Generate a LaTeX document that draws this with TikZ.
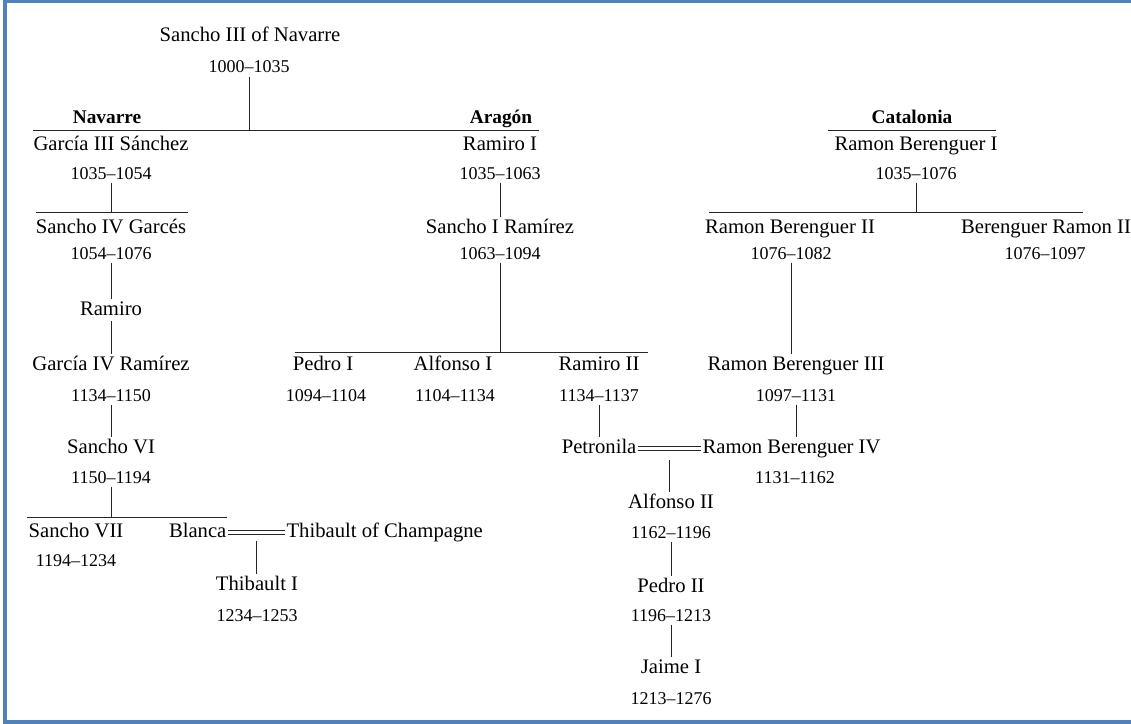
\documentclass[tikz,border=0pt]{standalone}
\usepackage{fontspec}
\setmainfont{Liberation Serif}
\usetikzlibrary{positioning,calc}

\definecolor{frameblue}{RGB}{79,129,189}

\begin{document}
\begin{tikzpicture}[
    x=0.75pt, y=-0.75pt,
    person/.style={font=\fontsize{15.5}{18}\selectfont, inner xsep=1pt, inner ysep=1.5pt,
        text height=10.5pt, text depth=3pt},
    yrs/.style={font=\fontsize{13.5}{16}\selectfont, inner xsep=1pt, inner ysep=2pt,
        text height=9.5pt, text depth=0.5pt},
    realm/.style={font=\fontsize{14.5}{17}\selectfont\bfseries, inner sep=1pt,
        text height=10.5pt, text depth=3pt},
    famline/.style={draw=black!85, line width=0.7pt},
    wedline/.style={draw=black!85, line width=0.6pt}
]
\useasboundingbox (0,0) rectangle (1131,724);
\draw[frameblue, line width=2.4pt] (1135,1.5) -- (5,1.5) -- (5,722) -- (1135,722);

% founder
\node[person] (sancho3) at (250,37) {Sancho III of Navarre};
\node[yrs] (sancho3y) at (249,67) {1000–1035};

% realms
\node[realm] (navarre) at (107,118) {Navarre};
\node[realm] (aragon) at (501,118) {Aragón};
\node[realm] (catalonia) at (912,118) {Catalonia};
\coordinate (topbarL) at (33,130);
\coordinate (topbarR) at (539,130);
\coordinate (catbarL) at (828,130);
\coordinate (catbarR) at (996,130);

% Navarre
\node[person] (garcia3) at (111,145) {García III Sánchez};
\node[yrs] (garcia3y) at (111,173) {1035–1054};
\coordinate (navbarL) at (36,212);
\coordinate (navbarR) at (188,212);
\node[person] (sancho4) at (111,228) {Sancho IV Garcés};
\node[yrs] (sancho4y) at (111,253) {1054–1076};
\node[person] (ramiro) at (111,310) {Ramiro};
\node[person] (garcia4) at (111,365) {García IV Ramírez};
\node[yrs] (garcia4y) at (111,395) {1134–1150};
\node[person] (sancho6) at (111,448) {Sancho VI};
\node[yrs] (sancho6y) at (111,477) {1150–1194};
\coordinate (navbar2L) at (27,517);
\coordinate (navbar2R) at (227,517);
\node[person] (sancho7) at (76,532) {Sancho VII};
\node[yrs] (sancho7y) at (76,560) {1194–1234};
\node[person, anchor=east] (blanca) at (228,532) {Blanca};
\node[person, anchor=west] (thibault) at (285,532) {Thibault of Champagne};
\node[person] (thibault1) at (257,585) {Thibault I};
\node[yrs] (thibault1y) at (257,615) {1234–1253};

% Aragon
\node[person] (ramiro1) at (500,145) {Ramiro I};
\node[yrs] (ramiro1y) at (500,173) {1035–1063};
\node[person] (sancho1) at (500,228) {Sancho I Ramírez};
\node[yrs] (sancho1y) at (500,253) {1063–1094};
\coordinate (arabarL) at (295,352);
\coordinate (arabarR) at (648,352);
\node[person] (pedro1) at (323,365) {Pedro I};
\node[yrs] (pedro1y) at (326,395) {1094–1104};
\node[person] (alfonso1) at (453,365) {Alfonso I};
\node[yrs] (alfonso1y) at (455,395) {1104–1134};
\node[person] (ramiro2) at (599,365) {Ramiro II};
\node[yrs] (ramiro2y) at (599,395) {1134–1137};
\node[person, anchor=east] (petronila) at (638,448) {Petronila};
\node[person] (alfonso2) at (671,503) {Alfonso II};
\node[yrs] (alfonso2y) at (671,532) {1162–1196};
\node[person] (pedro2) at (671,587) {Pedro II};
\node[yrs] (pedro2y) at (671,615) {1196–1213};
\node[person] (jaime1) at (671,668) {Jaime I};
\node[yrs] (jaime1y) at (671,698) {1213–1276};

% Catalonia
\node[person] (rb1) at (916,145) {Ramon Berenguer I};
\node[yrs] (rb1y) at (916,173) {1035–1076};
\coordinate (catbar2L) at (709,212);
\coordinate (catbar2R) at (1083,212);
\node[person] (rb2) at (790,228) {Ramon Berenguer II};
\node[yrs] (rb2y) at (791,253) {1076–1082};
\node[person] (br2) at (1046,228) {Berenguer Ramon II};
\node[yrs] (br2y) at (1045,253) {1076–1097};
\node[person] (rb3) at (796,365) {Ramon Berenguer III};
\node[yrs] (rb3y) at (796,395) {1097–1131};
\node[person, anchor=west] (rb4) at (701,448) {Ramon Berenguer IV};
\node[yrs] (rb4y) at (795,477) {1131–1162};

% lines
\draw[famline] (topbarL) -- (topbarR);
\draw[famline] (sancho3y) -- (sancho3y |- topbarL);
\draw[famline] (catbarL) -- (catbarR);

\draw[famline] (navbarL) -- (navbarR);
\draw[famline] (garcia3y) -- (garcia3y |- navbarL);
\draw[famline] (sancho4y) -- (ramiro);
\draw[famline] (ramiro) -- (garcia4);
\draw[famline] (garcia4y) -- (sancho6);
\draw[famline] (navbar2L) -- (navbar2R);
\draw[famline] (sancho6y) -- (sancho6y |- navbar2L);
% marriage Blanca -- Thibault
\draw[wedline] ([yshift=1.5pt]blanca.east) -- ([yshift=1.5pt]thibault.west);
\draw[wedline] ([yshift=-1.5pt]blanca.east) -- ([yshift=-1.5pt]thibault.west);
\coordinate (wedNav) at ($(blanca.east)!0.5!(thibault.west)$);
\draw[famline, line width=0.5pt, shorten <=7pt] (wedNav) -- (wedNav |- thibault1.north);

\draw[famline] (ramiro1y) -- (sancho1);
\draw[famline] (arabarL) -- (arabarR);
\draw[famline] (sancho1y) -- (sancho1y |- arabarL);
\draw[famline] (ramiro2y) -- (petronila.north -| ramiro2y);
% marriage Petronila -- Ramon Berenguer IV
\draw[wedline] ([yshift=1.5pt]petronila.east) -- ([yshift=1.5pt]rb4.west);
\draw[wedline] ([yshift=-1.5pt]petronila.east) -- ([yshift=-1.5pt]rb4.west);
\coordinate (wedArag) at ($(petronila.east)!0.5!(rb4.west)$);
\draw[famline, shorten <=9pt] (wedArag) -- (wedArag |- alfonso2.north);
\draw[famline, line width=0.5pt] (alfonso2y) -- (pedro2);
\draw[famline] (pedro2y) -- (jaime1);

\draw[famline] (rb1y) -- (rb1y |- catbar2L);
\draw[famline] (catbar2L) -- (catbar2R);
\draw[famline] (rb2y) -- (rb2y |- rb3.north);
\draw[famline] (rb3y) -- (rb3y |- rb4.north);

\end{tikzpicture}
\end{document}
